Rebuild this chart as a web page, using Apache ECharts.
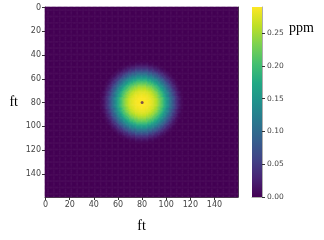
<!DOCTYPE html>
<html><head><meta charset="utf-8">
<script src="https://cdn.jsdelivr.net/npm/echarts@6/dist/echarts.min.js"></script>
<style>html,body{margin:0;padding:0;background:#fff}#c{width:324px;height:240px}</style>
</head><body><div id="c"></div>
<script>
// grid of cells (ft)
const gridSize = 160;
// plume source location (cell indices)
const sourcePoint = [80, 80];
// concentration (ppm) at each whole-cell distance from the source
const radialProfile = [
  0.290, 0.290, 0.289, 0.289, 0.288, 0.286, 0.284, 0.281, 0.278, 0.274,
  0.269, 0.263, 0.256, 0.248, 0.239, 0.229, 0.218, 0.206, 0.193, 0.179,
  0.164, 0.149, 0.134, 0.119, 0.104, 0.089, 0.075, 0.061, 0.048, 0.037,
  0.027, 0.019, 0.012, 0.007, 0.003, 0.001, 0.000
];
const axisTickLabels = ['0', '20', '40', '60', '80', '100', '120', '140'];
const colorbarTicks = [0, 0.05, 0.10, 0.15, 0.20, 0.25];
const colorMax = 0.29;
const viridis = ['#440154', '#482475', '#414487', '#355f8d', '#2a788e', '#21918c',
                 '#22a884', '#44bf70', '#7ad151', '#bddf26', '#fde725'];

const cats = [];
for (let i = 0; i < gridSize; i++) cats.push(String(i));
const cells = [];
for (let x = 0; x < gridSize; x++) {
  for (let y = 0; y < gridSize; y++) {
    const r = Math.round(Math.hypot(x - sourcePoint[0], y - sourcePoint[1]));
    const v = r < radialProfile.length ? radialProfile[r] : 0;
    cells.push([x, y, v]);
  }
}
const showTick = (idx, val) => axisTickLabels.indexOf(String(val)) >= 0;

const chart = echarts.init(document.getElementById('c'), null, {renderer: 'canvas'});
const labelStyle = {fontSize: 8, color: '#444', fontFamily: 'DejaVu Sans'};
const nameStyle = {fontSize: 14, color: '#000', fontFamily: 'Liberation Serif'};
chart.setOption({
  animation: false,
  grid: [
    {left: 45, top: 7, width: 193, height: 190},
    {left: 252, top: 7, width: 10, height: 190}
  ],
  xAxis: [
    {gridIndex: 0, type: 'category', data: cats, position: 'bottom',
     axisLine: {show: true, lineStyle: {color: '#222', width: 0.8}},
     axisTick: {show: true, interval: showTick, alignWithLabel: true, length: 3, lineStyle: {color: '#333'}},
     axisLabel: Object.assign({interval: showTick, margin: 4}, labelStyle),
     splitLine: {show: false},
     name: 'ft', nameLocation: 'middle', nameGap: 22, nameTextStyle: nameStyle},
    {gridIndex: 0, type: 'value', position: 'top', min: 0, max: 1,
     axisLine: {show: true, onZero: false, lineStyle: {color: '#222', width: 0.8}},
     axisTick: {show: false}, axisLabel: {show: false}, splitLine: {show: false}},
    {gridIndex: 1, type: 'category', data: ['c'],
     axisLine: {show: true, lineStyle: {color: '#999', width: 0.8}},
     axisTick: {show: false}, axisLabel: {show: false}, splitLine: {show: false}}
  ],
  yAxis: [
    {gridIndex: 0, type: 'category', data: cats, inverse: true,
     axisLine: {show: true, lineStyle: {color: '#222', width: 0.8}},
     axisTick: {show: true, interval: showTick, alignWithLabel: true, length: 3, lineStyle: {color: '#333'}},
     axisLabel: Object.assign({interval: showTick, margin: 4}, labelStyle),
     splitLine: {show: false},
     name: 'ft', nameLocation: 'middle', nameRotate: 0, nameGap: 27, nameTextStyle: nameStyle},
    {gridIndex: 0, type: 'value', position: 'right', min: 0, max: 1,
     axisLine: {show: true, onZero: false, lineStyle: {color: '#222', width: 0.8}},
     axisTick: {show: false}, axisLabel: {show: false}, splitLine: {show: false}},
    {gridIndex: 1, type: 'value', position: 'right', min: 0, max: colorMax,
     axisLine: {show: true, lineStyle: {color: '#999', width: 0.8}},
     axisTick: {show: true, length: 3, customValues: colorbarTicks, lineStyle: {color: '#333'}},
     axisLabel: Object.assign({customValues: colorbarTicks, margin: 5, formatter: v => v.toFixed(2)}, labelStyle, {fontSize: 7.5}),
     splitLine: {show: false}}
  ],
  visualMap: {show: false, seriesIndex: 0, dimension: 2, min: 0, max: colorMax, inRange: {color: viridis}},
  series: [
    {type: 'heatmap', xAxisIndex: 0, yAxisIndex: 0, data: cells, progressive: 0,
     emphasis: {disabled: true}, itemStyle: {borderWidth: 0}},
    {type: 'scatter', xAxisIndex: 0, yAxisIndex: 0, data: [sourcePoint], symbolSize: 3,
     itemStyle: {color: '#5e2a50'}, silent: true, z: 5},
    {type: 'bar', xAxisIndex: 2, yAxisIndex: 2, data: [colorMax], barWidth: '100%', silent: true,
     itemStyle: {color: {type: 'linear', x: 0, y: 1, x2: 0, y2: 0,
       colorStops: viridis.map((c, i) => ({offset: i / (viridis.length - 1), color: c}))}}}
  ],
  graphic: [
    {type: 'text', left: 289, top: 21, style: {text: 'ppm', font: '14px "Liberation Serif"', fill: '#000'}}
  ]
});
</script></body></html>
